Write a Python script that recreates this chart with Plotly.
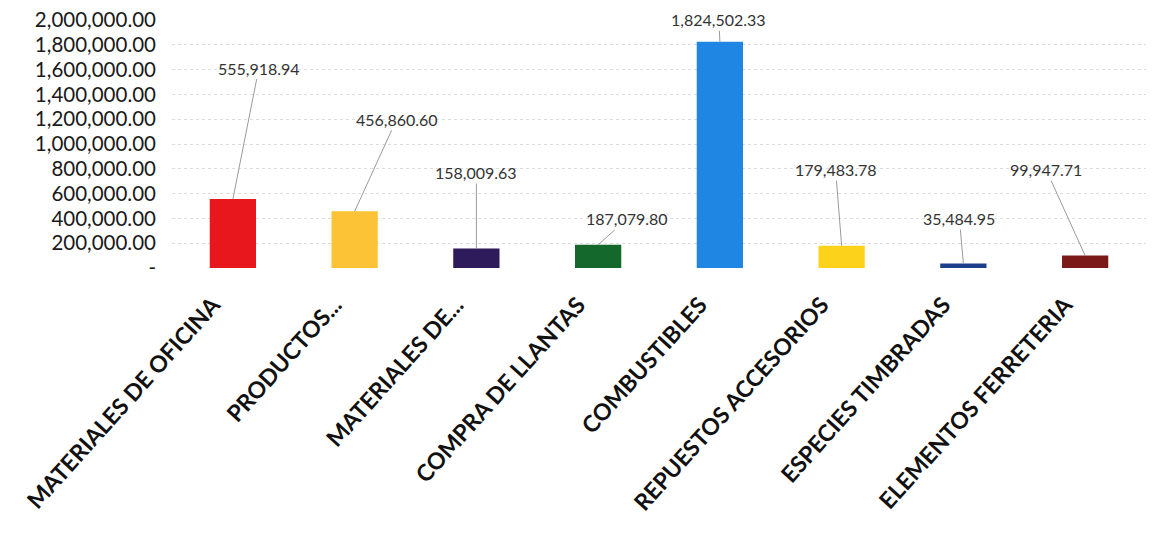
import plotly.graph_objects as go

categories = ["MATERIALES DE OFICINA", "PRODUCTOS...", "MATERIALES DE...", "COMPRA DE LLANTAS",
              "COMBUSTIBLES", "REPUESTOS ACCESORIOS", "ESPECIES TIMBRADAS", "ELEMENTOS FERRETERIA"]
values = [555918.94, 456860.60, 158009.63, 187079.80, 1824502.33, 179483.78, 35484.95, 99947.71]
tick_values = [0, 200000, 400000, 600000, 800000, 1000000, 1200000, 1400000, 1600000, 1800000, 2000000]
tick_labels = ["-", "200,000.00", "400,000.00", "600,000.00", "800,000.00", "1,000,000.00",
               "1,200,000.00", "1,400,000.00", "1,600,000.00", "1,800,000.00", "2,000,000.00"]

colors = ["#e8171d", "#fcc336", "#2d1b5c", "#14682c", "#1f86e3", "#fdd21a", "#1c3f8c", "#7b1818"]
label_offsets = [(26, -131), (42, -92), (0, -76), (29, -26), (-1, -22), (-6, -76), (-4, -45), (-39, -86)]

fig = go.Figure()
fig.add_trace(go.Bar(x=categories, y=values, marker=dict(color=colors, line=dict(width=0)),
                     width=0.38, hoverinfo="skip"))

for cat, val, (ax, ay) in zip(categories, values, label_offsets):
    fig.add_annotation(x=cat, y=val, text=f"{val:,.2f}", showarrow=True, arrowhead=0,
                       arrowwidth=1, arrowcolor="#9a9a9a", ax=ax, ay=ay, standoff=0,
                       font=dict(family="Lato", size=16, color="#333333"))

fig.update_layout(
    width=1143, height=538,
    margin=dict(l=164, r=5, t=12, b=278),
    paper_bgcolor="white", plot_bgcolor="white",
    showlegend=False,
    font=dict(family="Lato", color="#1a1a1a"),
)
fig.update_xaxes(tickangle=-48, tickfont=dict(family="Lato", size=23, color="#111111", weight="bold"),
                 showline=False, showgrid=False, ticks="", automargin=False,
                 ticklabelstandoff=18, ticklabelshift=-20, ticklabeloverflow="allow")
fig.update_yaxes(range=[0, 2000000], tickvals=tick_values, ticktext=tick_labels,
                 tickfont=dict(family="Lato", size=20.5, color="#1a1a1a"),
                 showgrid=True, gridcolor="#dddddd", griddash="dot", gridwidth=1,
                 zeroline=False, showline=False, ticks="", automargin=False,
                 ticklabelstandoff=15, ticklabeloverflow="allow")

fig.write_html("out.html")
